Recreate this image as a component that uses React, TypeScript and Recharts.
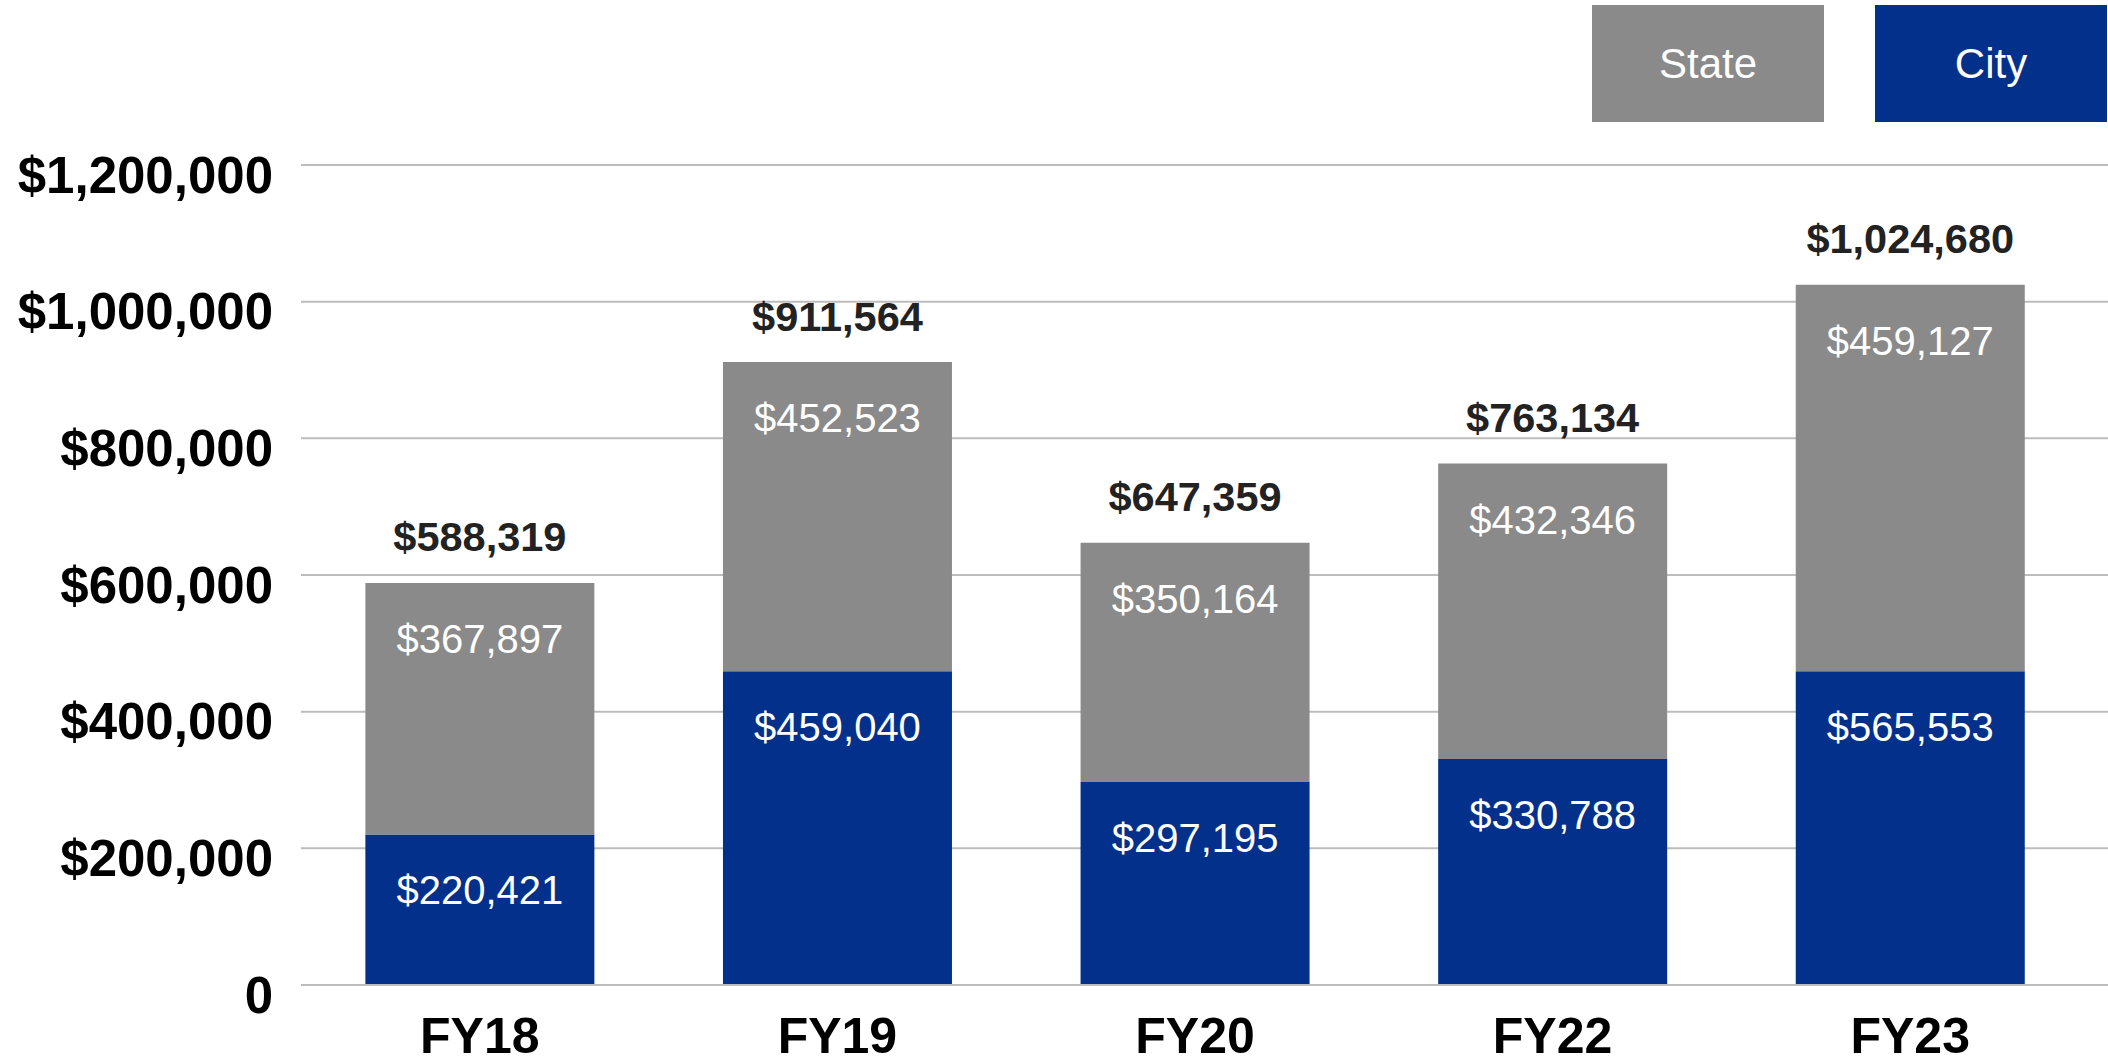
import { BarChart, Bar, CartesianGrid, XAxis, YAxis, LabelList } from 'recharts';

const categories = ['FY18', 'FY19', 'FY20', 'FY22', 'FY23'];
// bar heights as drawn in the picture
const cityValues = [220421, 459040, 297195, 330788, 459127];
const stateValues = [367897, 452523, 350164, 432346, 565553];
// amounts printed on the chart (FY23 printed the other way round)
const cityPrinted = [220421, 459040, 297195, 330788, 565553];
const statePrinted = [367897, 452523, 350164, 432346, 459127];
const totalPrinted = [588319, 911564, 647359, 763134, 1024680];
const yTicks = [0, 200000, 400000, 600000, 800000, 1000000, 1200000];

const CITY = '#03308a';
const STATE = '#8a8a8a';
const FONT = '"Liberation Sans", Arial, Helvetica, sans-serif';

const money = (v: number) => '$' + v.toLocaleString('en-US');

const data = categories.map((c, i) => ({
  name: c,
  city: cityValues[i],
  state: stateValues[i],
  cityLabel: cityPrinted[i],
  stateLabel: statePrinted[i],
  total: totalPrinted[i],
}));

const InnerLabel = (props: any) => {
  const { x, y, width, value } = props;
  return (
    <text x={x + width / 2} y={y + 56} textAnchor="middle" dominantBaseline="central"
      fill="#fff" fontSize={40} fontFamily={FONT}>
      {money(value)}
    </text>
  );
};

const TotalLabel = (props: any) => {
  const { x, y, width, value } = props;
  return (
    <text x={x + width / 2} y={y - 46} textAnchor="middle" dominantBaseline="central"
      fill="#222" fontSize={41.5} fontWeight="bold" fontFamily={FONT}>
      {money(value)}
    </text>
  );
};

const YTick = (props: any) => {
  const { x, y, payload } = props;
  return (
    <text x={x} y={y + 10} textAnchor="end" dominantBaseline="central"
      fill="#000" fontSize={51} fontWeight="bold" fontFamily={FONT}>
      {payload.value === 0 ? '0' : money(payload.value)}
    </text>
  );
};

const XTick = (props: any) => {
  const { x, y, payload } = props;
  return (
    <text x={x} y={y + 51} textAnchor="middle" dominantBaseline="central"
      fill="#000" fontSize={50} fontWeight="bold" fontFamily={FONT}>
      {payload.value}
    </text>
  );
};

const legendItems = [
  { label: 'State', color: STATE, left: 1592 },
  { label: 'City', color: CITY, left: 1875 },
];

const App = () => (
  <div style={{ position: 'absolute', left: 0, top: 0, width: 2108, height: 1063, background: '#fff', fontFamily: FONT }}>
    {legendItems.map((it) => (
      <div key={it.label} style={{
        position: 'absolute', left: it.left, top: 5, width: 232, height: 117,
        background: it.color, color: '#fff', fontSize: 42,
        display: 'flex', alignItems: 'center', justifyContent: 'center',
      }}>
        {it.label}
      </div>
    ))}
    <BarChart width={2108} height={1063} data={data}
      margin={{ top: 165, right: 0, left: 0, bottom: 48 }} barCategoryGap="18%">
      <CartesianGrid horizontal vertical={false} stroke="#bdbdbd" strokeWidth={2} />
      <XAxis dataKey="name" height={30} tick={<XTick />} tickLine={false} tickSize={0} tickMargin={0}
        axisLine={{ stroke: '#bdbdbd', strokeWidth: 2 }} padding={{ left: 0, right: 19 }} />
      <YAxis width={301} domain={[0, 1200000]} ticks={yTicks} tick={<YTick />}
        tickLine={false} axisLine={false} tickSize={0} tickMargin={28} interval={0} />
      <Bar dataKey="city" stackId="a" fill={CITY} isAnimationActive={false}>
        <LabelList dataKey="cityLabel" content={<InnerLabel />} />
      </Bar>
      <Bar dataKey="state" stackId="a" fill={STATE} isAnimationActive={false}>
        <LabelList dataKey="stateLabel" content={<InnerLabel />} />
        <LabelList dataKey="total" content={<TotalLabel />} />
      </Bar>
    </BarChart>
  </div>
);

export default App;
